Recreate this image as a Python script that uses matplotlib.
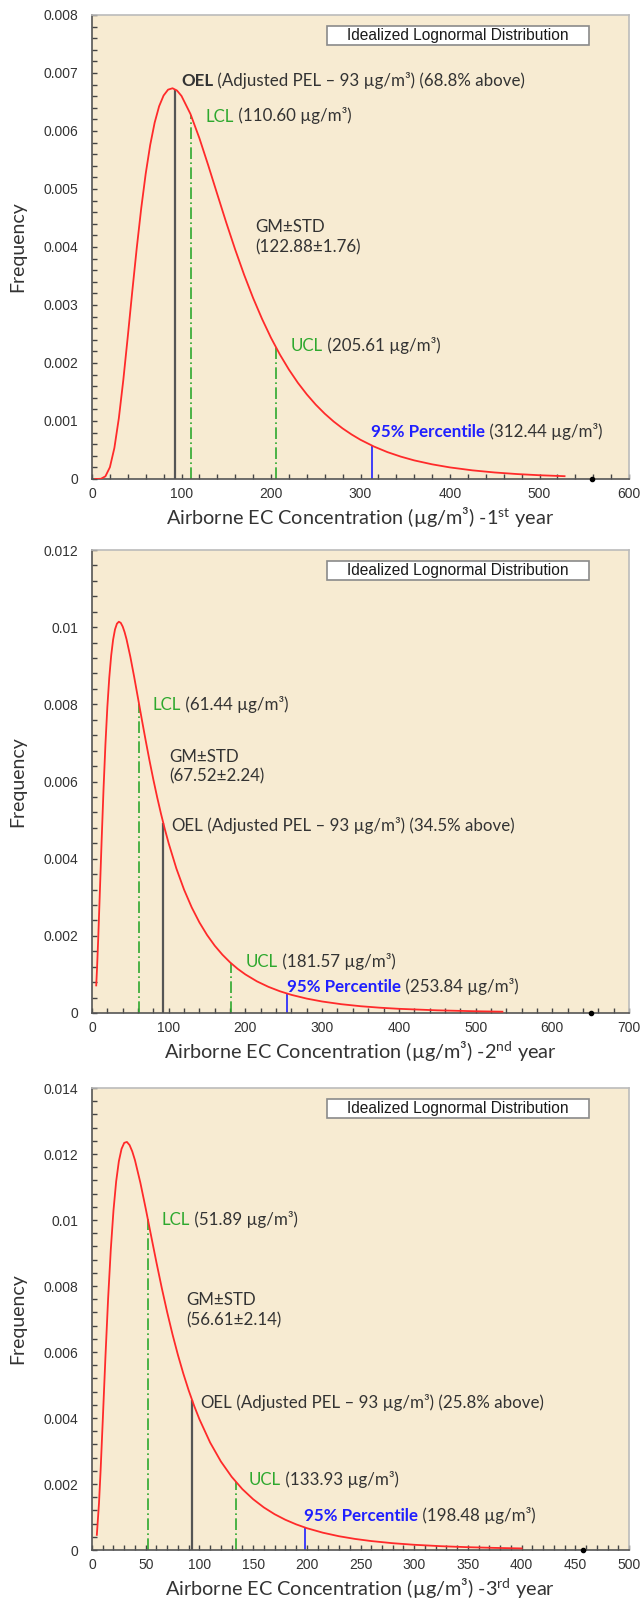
import matplotlib.pyplot as plt
from matplotlib import ticker
from matplotlib.patches import Rectangle

plt.rcParams['font.family'] = ['Lato', 'DejaVu Sans']
plt.rcParams['mathtext.fontset'] = 'custom'
plt.rcParams['mathtext.rm'] = 'Lato'
plt.rcParams['mathtext.it'] = 'Lato:italic'
plt.rcParams['mathtext.bf'] = 'Lato:bold'

# ----- curves (concentration, frequency) -----
x1 = [3.6, 10, 15, 20, 25, 30, 35, 40, 45, 50, 55, 60, 65, 70, 75, 80, 85, 90, 95, 100,
      110, 120, 130, 140, 150, 160, 170, 180, 190, 200, 210, 220, 230, 240, 250, 260,
      270, 280, 290, 300, 315, 330, 345, 360, 380, 400, 425, 450, 475, 500, 528]
y1 = [0, 0.0000037, 0.0000465, 0.000203, 0.000535, 0.001049, 0.001709, 0.002459,
      0.003235, 0.003983, 0.004668, 0.005263, 0.005757, 0.006144, 0.006427, 0.006612,
      0.006713, 0.006737, 0.006697, 0.006604, 0.006294, 0.005876, 0.005402, 0.004909,
      0.004421, 0.003955, 0.003520, 0.003121, 0.002760, 0.002434, 0.002144, 0.001887,
      0.001659, 0.001459, 0.001282, 0.001127, 0.000991, 0.000872, 0.000768, 0.000676,
      0.000560, 0.000464, 0.000386, 0.000321, 0.000253, 0.0001995, 0.0001493,
      0.0001124, 0.0000851, 0.0000648, 0.0000486]

x2 = [5.5, 6.5, 8, 10, 12.5, 15, 17.5, 20, 22.5, 25, 27.5, 30, 32.5, 35, 37.5, 40,
      42.5, 45, 50, 55, 60, 65, 70, 75, 80, 85, 90, 95, 100, 110, 120, 130, 140, 150,
      160, 170, 180, 190, 200, 215, 230, 245, 260, 280, 300, 325, 350, 375, 400, 450,
      500, 535]
y2 = [0.000715, 0.001128, 0.001872, 0.002997, 0.004440, 0.005791, 0.006962, 0.007927,
      0.008689, 0.009264, 0.009674, 0.009943, 0.010091, 0.010141, 0.010111, 0.010017,
      0.009871, 0.009687, 0.009231, 0.008708, 0.008156, 0.007602, 0.007060, 0.006539,
      0.006048, 0.005587, 0.005158, 0.004761, 0.004394, 0.003744, 0.003197, 0.002736,
      0.002348, 0.002021, 0.001744, 0.001511, 0.001312, 0.001143, 0.000999, 0.000820,
      0.000678, 0.000563, 0.000470, 0.000373, 0.000298, 0.000228, 0.000176, 0.0001377,
      0.0001085, 0.0000692, 0.0000454, 0.0000343]

x3 = [4.5, 6.5, 8, 10, 12.5, 15, 17.5, 20, 22.5, 25, 27.5, 30, 32.5, 35, 37.5, 40,
      45, 50, 55, 60, 65, 70, 75, 80, 85, 90, 95, 100, 110, 120, 130, 140, 150, 160,
      170, 180, 190, 200, 215, 230, 245, 260, 280, 300, 325, 350, 375, 400]
y3 = [0.000458, 0.001410, 0.002400, 0.003910, 0.005844, 0.007617, 0.009109, 0.010291,
      0.011170, 0.011779, 0.012154, 0.012338, 0.012365, 0.012269, 0.012077, 0.011813,
      0.011134, 0.010349, 0.009527, 0.008714, 0.007935, 0.007205, 0.006529, 0.005911,
      0.005349, 0.004839, 0.004379, 0.003964, 0.003256, 0.002683, 0.002220, 0.001845,
      0.001540, 0.001290, 0.001085, 0.000917, 0.000778, 0.000662, 0.000524, 0.000417,
      0.000335, 0.000271, 0.000206, 0.0001582, 0.0001153, 0.0000852, 0.0000638,
      0.0000482]

curves_x = [x1, x2, x3]
curves_y = [y1, y2, y3]

years = ['1$^{\\mathrm{st}}$', '2$^{\\mathrm{nd}}$', '3$^{\\mathrm{rd}}$']
x_max = [600, 700, 500]
x_step = [100, 100, 50]
y_max = [0.008, 0.012, 0.014]
y_step = [0.001, 0.002, 0.002]

# vertical markers: position and height where they meet the curve
oel_x = 93
oel_h = [0.00672, 0.004916, 0.004557]
lcl_x = [110.60, 61.44, 51.89]
lcl_h = [0.006271, 0.007997, 0.010040]
ucl_x = [205.61, 181.57, 133.93]
ucl_h = [0.002268, 0.001284, 0.002063]
p95_x = [312.44, 253.84, 198.48]
p95_h = [0.000578, 0.000506, 0.000678]
oel_pct = ['68.8', '34.5', '25.8']
gm = ['122.88', '67.52', '56.61']
gsd = ['1.76', '2.24', '2.14']
end_dot = [559, 651, 457]

# label anchors (data coords, left / vertical centre)
pos_oel = [(99.5, 0.00687), (102.9, 0.00484), (100.6, 0.00445)]
pos_lcl = [(126.8, 0.00625), (78.9, 0.00798), (64.4, 0.0100)]
pos_gm = [(182.5, 0.00417), (100.2, 0.00638), (87.7, 0.00727)]
pos_ucl = [(221.7, 0.00229), (200, 0.00132), (146, 0.00213)]
pos_p95 = [(311.6, 0.000815), (254.8, 0.00068), (197, 0.00103)]

W, H = 642, 1598
tops = [15, 550, 1088]
bottoms = [479, 1013, 1550]

BG = '#f7ebd2'
DARK = '#333333'
GREEN = '#2ea82e'
BLUE = '#1f1fff'
FS = 12.2


def two_part(ax, x, y, first, rest, color, weight='normal'):
    t = ax.text(x, y, first, color=color, fontsize=FS, fontweight=weight,
                ha='left', va='center')
    ax.annotate(rest, xy=(1, 0), xycoords=t, ha='left', va='bottom',
                fontsize=FS, color=DARK)


fig = plt.figure(figsize=(W / 100, H / 100), dpi=100)

for i in range(3):
    ax = fig.add_axes([92 / W, 1 - bottoms[i] / H, 537 / W, (bottoms[i] - tops[i]) / H])
    ax.set_facecolor(BG)
    ax.set_xlim(0, x_max[i])
    ax.set_ylim(0, y_max[i])

    ax.plot(curves_x[i], curves_y[i], color='#ff2a2a', lw=1.3, zorder=3)

    ax.vlines(oel_x, 0, oel_h[i], color='#555555', lw=1.6, zorder=2)
    ax.vlines([lcl_x[i], ucl_x[i]], 0, [lcl_h[i], ucl_h[i]], color=GREEN, lw=1.2,
              linestyles=[(0, (7, 2, 1, 2))], zorder=2)
    ax.vlines(p95_x[i], 0, p95_h[i], color=BLUE, lw=1.2, zorder=2)
    ax.plot(end_dot[i], 0, 'o', color='black', ms=3, clip_on=False, zorder=5)

    # annotations
    two_part(ax, *pos_oel[i], 'OEL',
             ' (Adjusted PEL \u2013 93 \u00b5g/m\u00b3) (%s%% above)' % oel_pct[i],
             DARK, 'bold' if i == 0 else 'normal')
    two_part(ax, *pos_lcl[i], 'LCL', ' (%.2f \u00b5g/m\u00b3)' % lcl_x[i], GREEN)
    two_part(ax, *pos_ucl[i], 'UCL', ' (%.2f \u00b5g/m\u00b3)' % ucl_x[i], GREEN)
    two_part(ax, *pos_p95[i], '95% Percentile', ' (%.2f \u00b5g/m\u00b3)' % p95_x[i],
             BLUE, 'bold')
    ax.text(*pos_gm[i], 'GM\u00b1STD\n(%s\u00b1%s)' % (gm[i], gsd[i]), fontsize=FS,
            color=DARK, ha='left', va='center', linespacing=1.3)

    # title box
    ax.add_patch(Rectangle((0.438, 0.936), 0.488, 0.04, transform=ax.transAxes,
                           facecolor='white', edgecolor='#8a8a8a', lw=1.2, zorder=4))
    ax.text(0.682, 0.956, 'Idealized Lognormal Distribution', transform=ax.transAxes,
            family='Liberation Sans', fontsize=11.2, color='#1a1a1a',
            ha='center', va='center', zorder=5)

    # axes styling
    for side in ['left', 'bottom']:
        ax.spines[side].set_color('#555555')
        ax.spines[side].set_linewidth(1.2)
    for side in ['top', 'right']:
        ax.spines[side].set_color('#bbbbbb')
        ax.spines[side].set_linewidth(1.2)

    ax.xaxis.set_major_locator(ticker.MultipleLocator(x_step[i]))
    ax.xaxis.set_minor_locator(ticker.AutoMinorLocator(5))
    ax.yaxis.set_major_locator(ticker.MultipleLocator(y_step[i]))
    ax.yaxis.set_minor_locator(ticker.AutoMinorLocator(5))
    ax.yaxis.set_major_formatter(ticker.FuncFormatter(lambda v, p: '%g' % round(v, 4)))
    ax.tick_params(which='both', direction='in', length=3.5, width=1, color='#444444')
    ax.tick_params(axis='x', which='major', pad=6)
    ax.tick_params(axis='y', which='major', pad=10)
    for lab in ax.get_xticklabels() + ax.get_yticklabels():
        lab.set_family('Liberation Sans')
        lab.set_fontsize(10)
        lab.set_color('#333333')

    ax.set_xlabel('Airborne EC Concentration (\u00b5g/m\u00b3) -%s year' % years[i],
                  fontsize=14.3, color=DARK, va='center')
    ax.xaxis.set_label_coords(0.5, -0.082)
    ax.set_ylabel('Frequency', fontsize=14, color=DARK, va='center')
    ax.yaxis.set_label_coords(-0.138, 0.5)

fig.savefig('out.png', dpi=100, facecolor='white')
